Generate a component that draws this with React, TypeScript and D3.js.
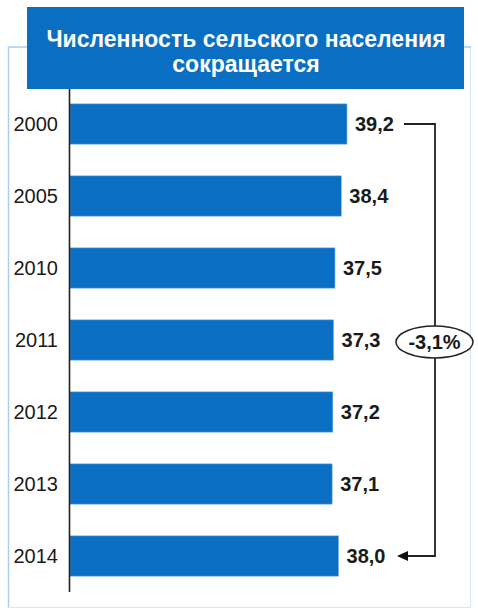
import React from "react";
import * as d3 from "d3";

const years = ["2000", "2005", "2010", "2011", "2012", "2013", "2014"];
const values = [39.2, 38.4, 37.5, 37.3, 37.2, 37.1, 38.0];
const valueLabels = ["39,2", "38,4", "37,5", "37,3", "37,2", "37,1", "38,0"];
const titleLines = ["Численность сельского населения", "сокращается"];
const changeLabel = "-3,1%";

const W = 478;
const H = 610;
const BLUE = "#0A6FC2";
const FRAME = "#A9CDEB";
const FONT = "Arial, 'Liberation Sans', Helvetica, sans-serif";

export default function App() {
  const axisX = 70;
  const x = d3.scaleLinear().domain([0, 39.2]).range([axisX, 347]);
  const y = d3.scaleBand().domain(years).range([88, 592]).paddingInner(0.44).paddingOuter(0.22);
  const bh = y.bandwidth();
  const cy = (yr: string) => (y(yr) as number) + bh / 2;

  const y0 = cy(years[0]);
  const y1 = cy(years[years.length - 1]);
  const bx = 435;
  const mid = cy("2011") + 2;
  const tipX = 397;

  return (
    <svg width={W} height={H} style={{ position: "absolute", left: 0, top: 0 }} fontFamily={FONT}>
      {/* frame */}
      <path d={`M27,47 H8.5 V607.5`} fill="none" stroke={FRAME} strokeWidth={1.5} />
      <path d={`M8.5,607.5 H470.5 V47 H464`} fill="none" stroke={FRAME} strokeWidth={1.2} opacity={0.45} />
      <line x1={464} x2={471} y1={47} y2={47} stroke={FRAME} strokeWidth={1.5} />
      {/* title */}
      <rect x={27} y={7} width={437} height={82} fill={BLUE} />
      {titleLines.map((t, i) => (
        <text key={i} x={246} y={46.5 + i * 25} textAnchor="middle" fill="#fff" fontSize={23} fontWeight="bold">
          {t}
        </text>
      ))}
      {/* bars */}
      {years.map((yr, i) => (
        <g key={yr}>
          <rect x={axisX} y={y(yr)} width={x(values[i]) - axisX} height={bh} fill={BLUE} stroke="#7FB8E6" strokeWidth={0.6} />
          <text x={58} y={cy(yr)} dy="0.36em" textAnchor="end" fontSize={20} fill="#1a1a1a">
            {yr}
          </text>
          <text x={x(values[i]) + 8} y={cy(yr)} dy="0.36em" fontSize={20} fontWeight="bold" fill="#1a1a1a">
            {valueLabels[i]}
          </text>
        </g>
      ))}
      {/* axis */}
      <line x1={axisX - 0.5} x2={axisX - 0.5} y1={89} y2={592} stroke="#222" strokeWidth={1.6} />
      {/* bracket */}
      <path d={`M404,${y0} H${bx} V${y1} H${tipX + 8}`} fill="none" stroke="#222" strokeWidth={1.8} />
      <path d={`M${tipX},${y1} L${tipX + 11},${y1 - 5} L${tipX + 11},${y1 + 5} Z`} fill="#111" />
      <ellipse cx={434.5} cy={mid} rx={38.5} ry={16} fill="#fff" stroke="#222" strokeWidth={1.5} />
      <text x={434.5} y={mid} dy="0.36em" textAnchor="middle" fontSize={20} fontWeight="bold" fill="#1a1a1a">
        {changeLabel}
      </text>
    </svg>
  );
}
